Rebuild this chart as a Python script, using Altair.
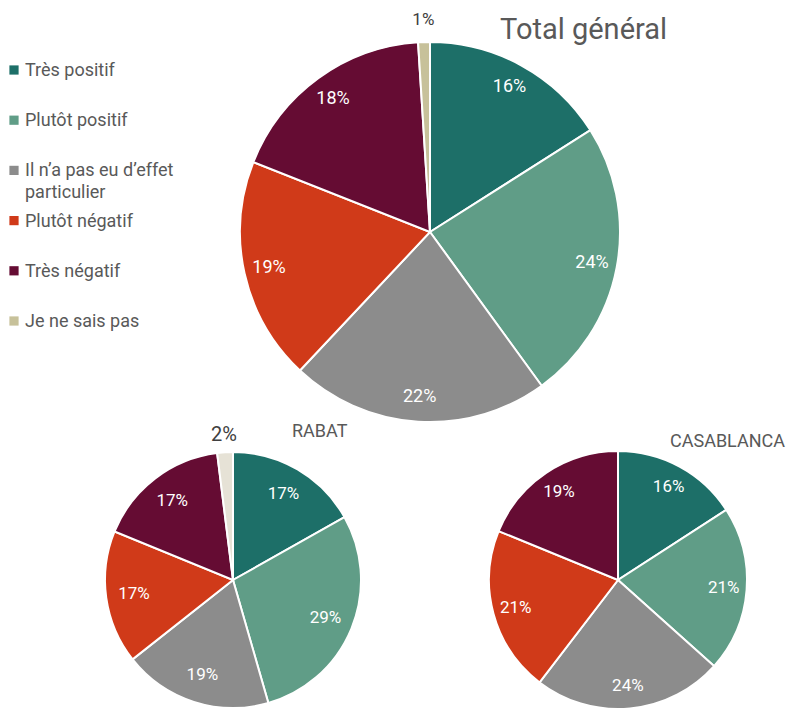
import altair as alt
import pandas as pd

FONT = "Roboto"
TXT = "#595959"

categories = ["Très positif", "Plutôt positif", "Il n’a pas eu d’effet particulier",
              "Plutôt négatif", "Très négatif", "Je ne sais pas"]
legend_labels = ["Très positif", "Plutôt positif", "Il n’a pas eu d’effet\nparticulier",
                 "Plutôt négatif", "Très négatif", "Je ne sais pas"]
colors = ["#1d6f68", "#609d87", "#8c8c8c", "#d03a19", "#650c33", "#c7c19a"]
colors_rabat = ["#1d6f68", "#609d87", "#8c8c8c", "#d03a19", "#650c33", "#e6e2d6"]

total_values = [16, 24, 22, 19, 18, 1]
rabat_values = [17, 29, 19, 17, 17, 2]
casa_values = [16, 21, 24, 21, 19]

titles = ["Total général", "RABAT", "CASABLANCA"]


def pie(vals, cx, cy, r, label_r, out_r, col_range, fs, out_fs):
    df = pd.DataFrame({"cat": categories[:len(vals)], "value": vals,
                       "idx": list(range(len(vals)))})
    base = alt.Chart(df).encode(
        theta=alt.Theta("value:Q", stack="normalize"),
        order=alt.Order("idx:Q"),
        detail="cat:N",
        x=alt.value(cx), y=alt.value(cy),
    )
    arc = base.mark_arc(outerRadius=r, stroke="white", strokeWidth=2).encode(
        color=alt.Color("cat:N", scale=alt.Scale(domain=categories, range=col_range), legend=None)
    )
    inside = base.transform_calculate(label="datum.value + '%'").mark_text(
        radius=label_r, fontSize=fs, font=FONT, color="white"
    ).encode(text="label:N",
             opacity=alt.condition("datum.value >= 5", alt.value(1), alt.value(0)))
    outside = base.transform_calculate(label="datum.value + '%'").mark_text(
        radius=out_r, fontSize=out_fs, font=FONT, color="#404040"
    ).encode(text="label:N",
             opacity=alt.condition("datum.value < 5", alt.value(1), alt.value(0)))
    return [arc, inside, outside]


layers = []
layers += pie(total_values, 430, 232, 190, 165, 212, colors, 18, 17)
layers += pie(rabat_values, 233, 580, 128, 100, 145, colors_rabat, 17, 20)
layers += pie(casa_values, 618, 580, 129, 106, 150, colors, 17, 17)

# legend
leg_df = pd.DataFrame({"cat": categories, "label": legend_labels})
leg_y = alt.Y("cat:N", sort=categories, axis=None,
              scale=alt.Scale(range=[70, 321], padding=0))
leg_sq = alt.Chart(leg_df).mark_square(size=85, opacity=1).encode(
    x=alt.value(14), y=leg_y,
    color=alt.Color("cat:N", scale=alt.Scale(domain=categories, range=colors), legend=None),
)
leg_tx = alt.Chart(leg_df).mark_text(
    align="left", baseline="alphabetic", dy=6, fontSize=18, font=FONT, color=TXT,
    lineBreak="\n", lineHeight=22
).encode(x=alt.value(25), y=leg_y, text="label:N")

# titles
t1 = alt.Chart(pd.DataFrame({"t": [titles[0]]})).mark_text(
    align="left", baseline="middle", fontSize=29, font=FONT, color=TXT
).encode(x=alt.value(500), y=alt.value(30), text="t:N")
t2 = alt.Chart(pd.DataFrame({"t": [titles[1]]})).mark_text(
    align="left", baseline="middle", fontSize=18, font=FONT, color=TXT
).encode(x=alt.value(292), y=alt.value(432), text="t:N")
t3 = alt.Chart(pd.DataFrame({"t": [titles[2]]})).mark_text(
    align="left", baseline="middle", fontSize=18, font=FONT, color=TXT
).encode(x=alt.value(670), y=alt.value(442), text="t:N")

chart = alt.layer(*layers, leg_sq, leg_tx, t1, t2, t3).resolve_scale(
    color="independent", y="independent"
).properties(
    width=792, height=709, padding=0, autosize="none", background="white"
).configure_view(stroke=None)

chart.save("out.html", embed_options={"renderer": "svg", "actions": False})
